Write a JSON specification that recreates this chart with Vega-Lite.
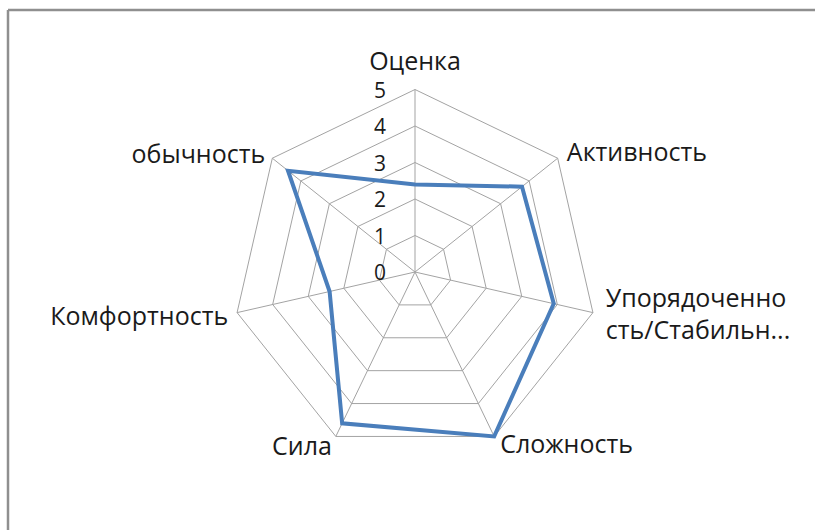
{
  "$schema": "https://vega.github.io/schema/vega-lite/v6.json",
  "width": 807,
  "height": 520,
  "autosize": {"type": "none"},
  "padding": {"left": 8, "top": 10, "right": 0, "bottom": 0},
  "background": "white",
  "config": {
    "view": {"stroke": "#8f8f8f", "strokeWidth": 2.5, "strokeDash": [807, 1327, 520, 0]},
    "text": {"font": "Open Sans", "color": "#1a1a1a"}
  },
  "datasets": {
    "series": [
      {"axis": "Оценка", "label": "Оценка", "k": 0, "value": 2.4},
      {"axis": "Активность", "label": "Активность", "k": 1, "value": 3.75},
      {"axis": "Упорядоченность/Стабильность", "label": "Упорядоченно\nсть/Стабильн...", "k": 2, "value": 3.9},
      {"axis": "Сложность", "label": "Сложность", "k": 3, "value": 5},
      {"axis": "Сила", "label": "Сила", "k": 4, "value": 4.6},
      {"axis": "Комфортность", "label": "Комфортность", "k": 5, "value": 2.4},
      {"axis": "обычность", "label": "обычность", "k": 6, "value": 4.45}
    ],
    "rings": [
      {"ring": 1, "k": 0}, {"ring": 1, "k": 1}, {"ring": 1, "k": 2}, {"ring": 1, "k": 3}, {"ring": 1, "k": 4}, {"ring": 1, "k": 5}, {"ring": 1, "k": 6},
      {"ring": 2, "k": 0}, {"ring": 2, "k": 1}, {"ring": 2, "k": 2}, {"ring": 2, "k": 3}, {"ring": 2, "k": 4}, {"ring": 2, "k": 5}, {"ring": 2, "k": 6},
      {"ring": 3, "k": 0}, {"ring": 3, "k": 1}, {"ring": 3, "k": 2}, {"ring": 3, "k": 3}, {"ring": 3, "k": 4}, {"ring": 3, "k": 5}, {"ring": 3, "k": 6},
      {"ring": 4, "k": 0}, {"ring": 4, "k": 1}, {"ring": 4, "k": 2}, {"ring": 4, "k": 3}, {"ring": 4, "k": 4}, {"ring": 4, "k": 5}, {"ring": 4, "k": 6},
      {"ring": 5, "k": 0}, {"ring": 5, "k": 1}, {"ring": 5, "k": 2}, {"ring": 5, "k": 3}, {"ring": 5, "k": 4}, {"ring": 5, "k": 5}, {"ring": 5, "k": 6}
    ],
    "spokes": [
      {"k": 0, "r": 0}, {"k": 0, "r": 5},
      {"k": 1, "r": 0}, {"k": 1, "r": 5},
      {"k": 2, "r": 0}, {"k": 2, "r": 5},
      {"k": 3, "r": 0}, {"k": 3, "r": 5},
      {"k": 4, "r": 0}, {"k": 4, "r": 5},
      {"k": 5, "r": 0}, {"k": 5, "r": 5},
      {"k": 6, "r": 0}, {"k": 6, "r": 5}
    ],
    "ticks": [
      {"tick": 0}, {"tick": 1}, {"tick": 2}, {"tick": 3}, {"tick": 4}, {"tick": 5}
    ]
  },
  "layer": [
    {
      "data": {"name": "rings"},
      "transform": [
        {"calculate": "datum.ring*sin(datum.k*2*PI/7)", "as": "x"},
        {"calculate": "datum.ring*cos(datum.k*2*PI/7)", "as": "y"}
      ],
      "mark": {"type": "line", "interpolate": "linear-closed", "stroke": "#a3a3a3", "strokeWidth": 1},
      "encoding": {
        "x": {"field": "x", "type": "quantitative", "scale": {"domain": [-11.151, 10.959], "nice": false, "zero": false}, "axis": null},
        "y": {"field": "y", "type": "quantitative", "scale": {"domain": [-7.068, 7.178], "nice": false, "zero": false}, "axis": null},
        "detail": {"field": "ring", "type": "nominal"},
        "order": {"field": "k", "type": "quantitative"}
      }
    },
    {
      "data": {"name": "spokes"},
      "transform": [
        {"calculate": "datum.r*sin(datum.k*2*PI/7)", "as": "x"},
        {"calculate": "datum.r*cos(datum.k*2*PI/7)", "as": "y"}
      ],
      "mark": {"type": "line", "stroke": "#a3a3a3", "strokeWidth": 1},
      "encoding": {
        "x": {"field": "x", "type": "quantitative"},
        "y": {"field": "y", "type": "quantitative"},
        "detail": {"field": "k", "type": "nominal"},
        "order": {"field": "r", "type": "quantitative"}
      }
    },
    {
      "data": {"name": "series"},
      "transform": [
        {"calculate": "datum.value*sin(datum.k*2*PI/7)", "as": "x"},
        {"calculate": "datum.value*cos(datum.k*2*PI/7)", "as": "y"}
      ],
      "mark": {"type": "line", "interpolate": "linear-closed", "stroke": "#4a7ebb", "strokeWidth": 4, "strokeJoin": "miter"},
      "encoding": {
        "x": {"field": "x", "type": "quantitative"},
        "y": {"field": "y", "type": "quantitative"},
        "order": {"field": "k", "type": "quantitative"}
      }
    },
    {
      "data": {"name": "ticks"},
      "transform": [
        {"calculate": "0", "as": "x"}
      ],
      "mark": {"type": "text", "align": "right", "baseline": "alphabetic", "dx": -29, "dy": 8, "fontSize": 21},
      "encoding": {
        "x": {"field": "x", "type": "quantitative"},
        "y": {"field": "tick", "type": "quantitative"},
        "text": {"field": "tick", "type": "nominal"}
      }
    },
    {
      "data": {"name": "series"},
      "transform": [
        {"filter": "datum.k == 0"},
        {"calculate": "5.25*sin(datum.k*2*PI/7)", "as": "lx"},
        {"calculate": "5.25*cos(datum.k*2*PI/7)", "as": "ly"}
      ],
      "mark": {"type": "text", "align": "center", "baseline": "bottom", "dy": -5, "fontSize": 25},
      "encoding": {
        "x": {"field": "lx", "type": "quantitative"},
        "y": {"field": "ly", "type": "quantitative"},
        "text": {"field": "label", "type": "nominal"}
      }
    },
    {
      "data": {"name": "series"},
      "transform": [
        {"filter": "datum.k == 1 || datum.k == 3"},
        {"calculate": "5.25*sin(datum.k*2*PI/7)", "as": "lx"},
        {"calculate": "5.25*cos(datum.k*2*PI/7)", "as": "ly"}
      ],
      "mark": {"type": "text", "align": "left", "baseline": "middle", "dx": 2, "fontSize": 25},
      "encoding": {
        "x": {"field": "lx", "type": "quantitative"},
        "y": {"field": "ly", "type": "quantitative"},
        "text": {"field": "label", "type": "nominal"}
      }
    },
    {
      "data": {"name": "series"},
      "transform": [
        {"filter": "datum.k == 2"},
        {"calculate": "5.25*sin(datum.k*2*PI/7)", "as": "lx"},
        {"calculate": "5.25*cos(datum.k*2*PI/7)", "as": "ly"}
      ],
      "mark": {"type": "text", "align": "left", "baseline": "middle", "dx": 4, "dy": -16, "fontSize": 25, "lineBreak": "\n", "lineHeight": 32},
      "encoding": {
        "x": {"field": "lx", "type": "quantitative"},
        "y": {"field": "ly", "type": "quantitative"},
        "text": {"field": "label", "type": "nominal"}
      }
    },
    {
      "data": {"name": "series"},
      "transform": [
        {"filter": "datum.k >= 4"},
        {"calculate": "5.25*sin(datum.k*2*PI/7)", "as": "lx"},
        {"calculate": "5.25*cos(datum.k*2*PI/7)", "as": "ly"}
      ],
      "mark": {"type": "text", "align": "right", "baseline": "middle", "dy": 2, "fontSize": 25},
      "encoding": {
        "x": {"field": "lx", "type": "quantitative"},
        "y": {"field": "ly", "type": "quantitative"},
        "text": {"field": "label", "type": "nominal"}
      }
    }
  ]
}
